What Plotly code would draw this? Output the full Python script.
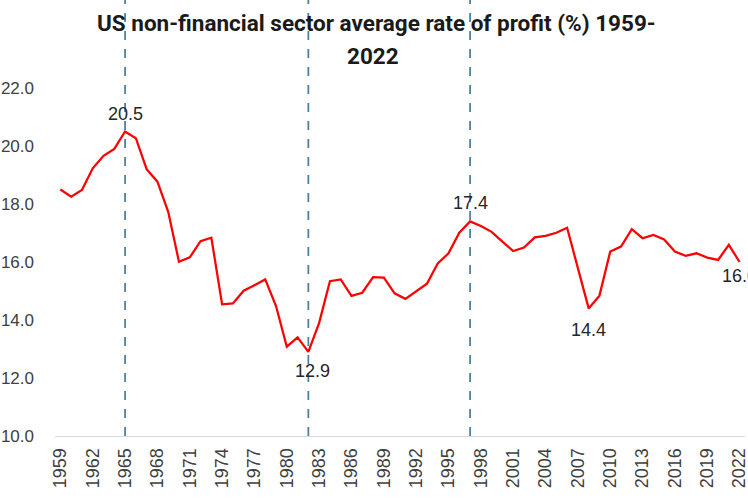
import plotly.graph_objects as go

years = list(range(1959, 2023))
profit_rate = [
    18.5, 18.25, 18.48, 19.23, 19.66, 19.9, 20.5, 20.27, 19.2, 18.77,
    17.73, 16.01, 16.16, 16.72, 16.84, 14.54, 14.57, 15.01, 15.2, 15.4,
    14.48, 13.08, 13.4, 12.9, 13.9, 15.34, 15.4, 14.83, 14.94, 15.48,
    15.46, 14.92, 14.73, 15.0, 15.25, 15.95, 16.3, 17.01, 17.4, 17.24,
    17.04, 16.7, 16.38, 16.5, 16.85, 16.9, 17.01, 17.18, 15.78, 14.4,
    14.84, 16.36, 16.53, 17.13, 16.82, 16.93, 16.78, 16.36, 16.21, 16.3,
    16.15, 16.07, 16.59, 16.0,
]
label_years = [1965, 1982, 1997, 2008, 2022]
label_yshift = [18, -19.5, 18, -21.5, -13.5]
label_xshift = [0, 4, 0, 0, 0]
marker_years = [1965, 1982, 1997]
tick_years = list(range(1959, 2023, 3))
y_ticks = [10, 12, 14, 16, 18, 20, 22]
title_line1 = "US non-financial sector average rate of profit (%) 1959-"
title_line2 = "2022"

label_vals = [profit_rate[years.index(y)] for y in label_years]

W, H = 748, 498
L, R, T, B = 55, 3, 0, 62
PW, PH = W - L - R, H - T - B

fig = go.Figure()
fig.add_trace(go.Scatter(
    x=years, y=profit_rate, mode="lines",
    line=dict(color="#FF0000", width=2.25),
    hoverinfo="x+y", showlegend=False,
))

for yr, val, dy, dx in zip(label_years, label_vals, label_yshift, label_xshift):
    fig.add_annotation(x=yr, y=val, xref="x", yref="y", text=f"{val:.1f}", showarrow=False,
                       xanchor="center", yanchor="middle", yshift=dy, xshift=dx,
                       font=dict(family="Liberation Sans, Arial, sans-serif", size=18, color="#262626"))

for yr in marker_years:
    fig.add_shape(type="line", x0=yr, x1=yr, y0=10, y1=26, xref="x", yref="y",
                  line=dict(color="#4A7EA0", width=1.75, dash="dash"), layer="below")

title_font = dict(family="Roboto, sans-serif", size=22.5, color="#1a1a1a")
fig.add_annotation(text=f"<b>{title_line1}</b>", xref="paper", yref="paper",
                   x=(376 - L) / PW, y=1 - 23 / PH, xanchor="center", yanchor="middle",
                   showarrow=False, font=title_font)
fig.add_annotation(text=f"<b>{title_line2}</b>", xref="paper", yref="paper",
                   x=(373 - L) / PW, y=1 - 56 / PH, xanchor="center", yanchor="middle",
                   showarrow=False, font=title_font)

fig.update_layout(
    width=W, height=H,
    margin=dict(l=L, r=R, t=T, b=B),
    paper_bgcolor="white", plot_bgcolor="white",
    font=dict(family="Liberation Sans, Arial, sans-serif", size=17, color="#404040"),
    xaxis=dict(range=[1958.5, 2022.5], tickvals=tick_years, ticktext=[str(t) for t in tick_years],
               tickangle=-90, showgrid=False, zeroline=False, showline=True, automargin=False,
               linecolor="#D9D9D9", linewidth=1, ticks="", ticklabelstandoff=4,
               ticklabeloverflow="allow", tickfont=dict(size=18)),
    yaxis=dict(range=[10, 10 + PH / 29.0], tickvals=y_ticks, ticktext=[f"{t:.1f}" for t in y_ticks],
               showgrid=False, zeroline=False, showline=False, ticks="", automargin=False,
               ticklabelstandoff=20, ticklabeloverflow="allow", tickfont=dict(size=17)),
)

fig.write_html("out.html", config={"displayModeBar": False},
               post_script="document.body.style.margin='0px';document.body.style.overflow='hidden';")
